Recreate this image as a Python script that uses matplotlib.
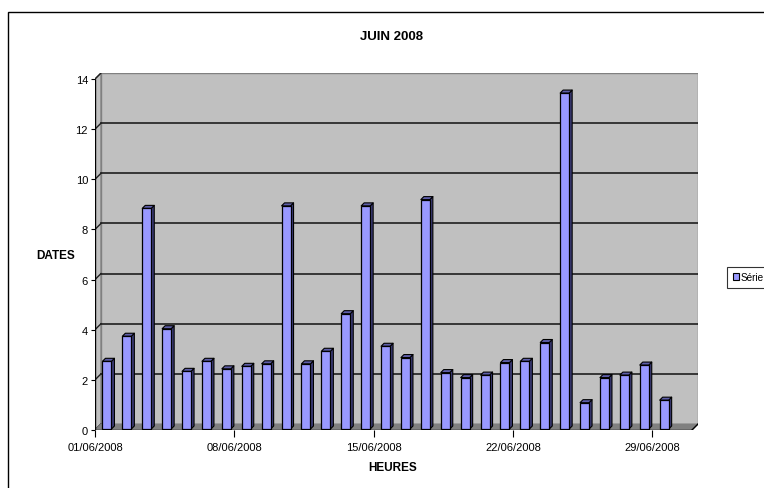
import matplotlib
matplotlib.use("Agg")
import matplotlib.pyplot as plt
from matplotlib.patches import Polygon, Rectangle, Patch
from matplotlib.collections import PolyCollection

plt.rcParams['font.family'] = ['Liberation Sans', 'DejaVu Sans']

# ---- data -------------------------------------------------------------
days = list(range(1, 30))           # 01/06/2008 .. 29/06/2008 (30/06 has no value)
values = [2.7, 3.7, 8.8, 4.0, 2.3, 2.7, 2.4, 2.5, 2.6, 8.9,
          2.6, 3.1, 4.6, 8.9, 3.3, 2.85, 9.15, 2.25, 2.05, 2.15,
          2.65, 2.7, 3.45, 13.4, 1.05, 2.05, 2.15, 2.55, 1.15]
n_days = 30
tick_days = [1, 8, 15, 22, 29]
tick_labels = ["01/06/2008", "08/06/2008", "15/06/2008", "22/06/2008", "29/06/2008"]
y_ticks = [0, 2, 4, 6, 8, 10, 12, 14]
series_name = "Série"

# ---- figure ------------------------------------------------------------
W, H, DPI = 764, 489, 100
fig = plt.figure(figsize=(W / DPI, H / DPI), dpi=DPI)

# front plane of the 3D box in pixels
x0_px, x_step = 95, 19.9          # x of day-axis origin, px per day
y0_px, y_step = 431, 25.07        # y of value 0, px per unit
depth_px = 6                      # wall depth offset

wdx = depth_px / x_step
wdy = depth_px / y_step
ymax = 14
xmax = n_days

left = x0_px / W
right = (x0_px + (xmax + wdx) * x_step) / W
bottom = (H - y0_px) / H
top = (H - (y0_px - (ymax + wdy) * y_step)) / H
ax = fig.add_axes([left, bottom, right - left, top - bottom])
ax.set_xlim(0, xmax + wdx)
ax.set_ylim(0, ymax + wdy)
for s in ax.spines.values():
    s.set_visible(False)
ax.patch.set_visible(False)

wall_col = '#C0C0C0'
wall_edge = '#808080'
grid_col = '#1E1E1E'

# back wall
ax.add_patch(Rectangle((wdx, wdy), xmax, ymax, facecolor=wall_col,
                       edgecolor=wall_edge, lw=1.0, zorder=0))
# side wall
ax.add_patch(Polygon([(0, 0), (wdx, wdy), (wdx, ymax + wdy), (0, ymax)],
                     closed=True, facecolor=wall_col, edgecolor=wall_edge,
                     lw=1.0, zorder=0))
# gridlines on back wall and side wall
for yv in y_ticks[1:-1]:
    ax.plot([wdx, xmax + wdx], [yv + wdy, yv + wdy], color=grid_col, lw=1.2, zorder=1)
    ax.plot([0, wdx], [yv, yv + wdy], color=grid_col, lw=1.0, zorder=1)
ax.plot([0, wdx], [ymax, ymax + wdy], color=grid_col, lw=1.0, zorder=1)
ax.plot([0, wdx], [0, wdy], color=grid_col, lw=1.0, zorder=1)
# floor
ax.add_patch(Polygon([(0, 0), (xmax, 0), (xmax + wdx, wdy), (wdx, wdy)],
                     closed=True, facecolor='#808080', edgecolor='#808080',
                     lw=0.6, zorder=1))
# front axis lines
ax.plot([0, 0], [0, ymax], color='black', lw=1.0, zorder=5, solid_capstyle='butt')
ax.plot([0, xmax], [0, 0], color='black', lw=1.0, zorder=5, solid_capstyle='butt')
ax.plot([xmax, xmax + wdx], [0, wdy], color='black', lw=1.0, zorder=5)

# ---- 3D columns --------------------------------------------------------
bar_w = 9 / x_step
bar_off_x = 2 / x_step
bar_off_y = 1 / y_step
bdx = 3 / x_step
bdy = 3 / y_step
front_col = '#9999FF'
side_col = '#3C3C78'
top_col = '#5E5EA8'

lefts = [d - 0.5 - bar_w / 2 + bar_off_x for d in days]
ax.bar(lefts, values, width=bar_w, bottom=bar_off_y, align='edge',
       color=front_col, edgecolor='black', linewidth=0.9, zorder=4)

sides, tops = [], []
for xl, v in zip(lefts, values):
    xr = xl + bar_w
    yb = bar_off_y
    yt = v + bar_off_y
    sides.append([(xr, yb), (xr + bdx, yb + bdy), (xr + bdx, yt + bdy), (xr, yt)])
    tops.append([(xl, yt), (xr, yt), (xr + bdx, yt + bdy), (xl + bdx, yt + bdy)])
ax.add_collection(PolyCollection(sides, facecolors=side_col, edgecolors='black',
                                 linewidths=0.8, zorder=3))
ax.add_collection(PolyCollection(tops, facecolors=top_col, edgecolors='black',
                                 linewidths=0.8, zorder=3))

# ---- ticks and labels ---------------------------------------------------
ax.set_yticks(y_ticks)
ax.set_yticklabels([str(t) for t in y_ticks])
ax.set_xticks([d - 1 for d in tick_days])
ax.set_xticklabels(tick_labels)
ax.tick_params(axis='y', direction='out', length=3, width=0.8, pad=2, labelsize=8)
ax.tick_params(axis='x', direction='out', length=5, width=0.8, pad=4, labelsize=8)

fig.text(391 / W, 1 - 37 / H, "JUIN 2008", ha='center', va='center',
         fontsize=9.5, fontweight='bold')
fig.text(56 / W, 1 - 256 / H, "DATES", ha='center', va='center',
         fontsize=8.5, fontweight='bold')
fig.text(393 / W, 1 - 468 / H, "HEURES", ha='center', va='center',
         fontsize=8.5, fontweight='bold')

# chart frame
fig.patches.append(Rectangle((7.5 / W, -0.05), 1.0, 1 - 12.5 / H + 0.05,
                             transform=fig.transFigure, fill=False,
                             edgecolor='black', lw=1.0))

# legend
handle = Patch(facecolor=front_col, edgecolor='black', linewidth=0.8)
leg = fig.legend([handle], [series_name], loc='center left',
                 bbox_to_anchor=(727 / W, 1 - 278 / H), fontsize=7.2,
                 frameon=True, fancybox=False, borderpad=0.55,
                 handlelength=0.6, handleheight=0.7, handletextpad=0.2,
                 borderaxespad=0)
leg.get_frame().set_edgecolor('black')
leg.get_frame().set_linewidth(0.8)

fig.savefig("out.png", dpi=DPI)
